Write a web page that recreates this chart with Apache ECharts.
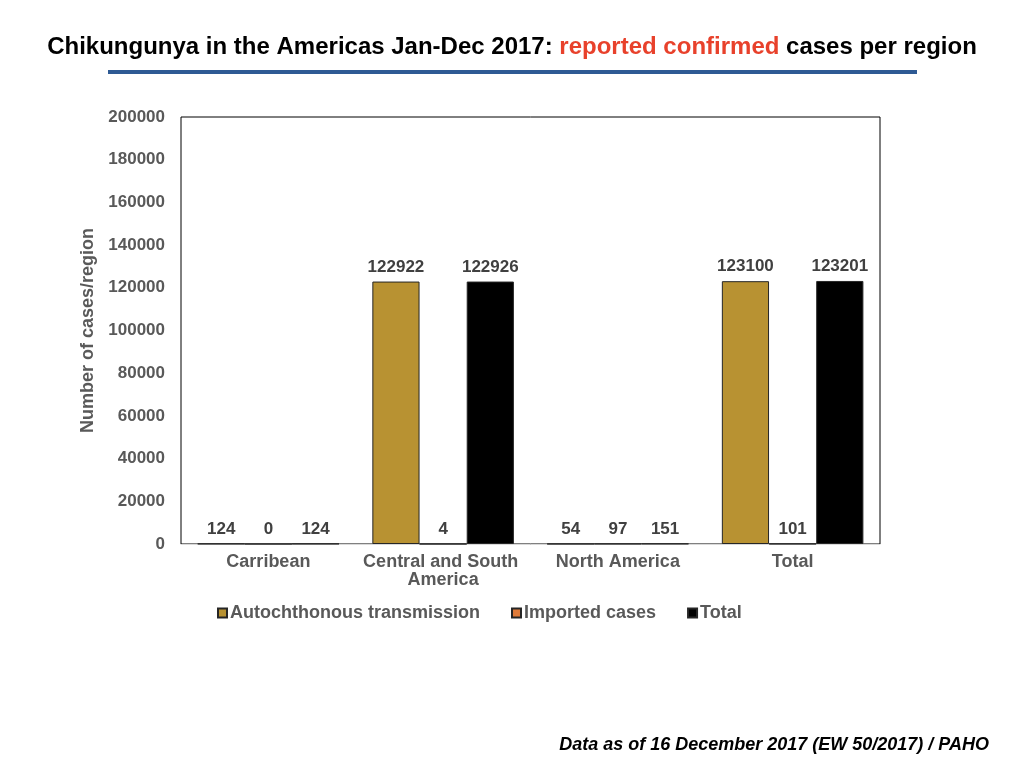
<!DOCTYPE html>
<html><head><meta charset="utf-8">
<script src="https://cdn.jsdelivr.net/npm/echarts@6/dist/echarts.min.js"></script>
<style>html,body{margin:0;padding:0;background:#fff}#c{width:1024px;height:768px}</style>
</head><body><div id="c"></div>
<script>
const categories = ['Carribean', 'Central and South America', 'North America', 'Total'];
const autochthonous = [124, 122922, 54, 123100];
const imported = [0, 4, 97, 101];
const totals = [124, 122926, 151, 123201];
const seriesNames = ['Autochthonous transmission', 'Imported cases', 'Total'];
const yTicks = {min: 0, max: 200000, interval: 20000};

const FONT = '"Liberation Sans", Arial, Helvetica, sans-serif';
const chart = echarts.init(document.getElementById('c'));
const labelCfg = {show: true, position: 'top', distance: 6, color: '#404040', fontWeight: 'bold', fontSize: 17, fontFamily: FONT};
function mk(name, data, color) {
  return {name, type: 'bar', data, barGap: '0%', barCategoryGap: '19%',
    itemStyle: {color, borderColor: '#262626', borderWidth: 1},
    label: labelCfg};
}
chart.setOption({
  animation: false,
  title: {
    text: 'Chikungunya in the Americas Jan-Dec 2017: {r|reported confirmed} cases per region',
    left: 'center', top: 30,
    textStyle: {fontSize: 24, fontWeight: 'bold', color: '#000', fontFamily: FONT,
      rich: {r: {fontSize: 24, fontWeight: 'bold', color: '#E8412B', fontFamily: FONT}}}
  },
  graphic: [
    {type: 'rect', shape: {x: 108, y: 70, width: 809, height: 4}, style: {fill: '#2E5A94'}},
    {type: 'text', right: 35, top: 736, style: {text: 'Data as of 16 December 2017 (EW 50/2017) / PAHO',
      font: 'italic bold 18px ' + FONT, fill: '#000'}}
  ],
  legend: {
    data: seriesNames, left: 212, top: 599, icon: 'rect', itemWidth: 9, itemHeight: 9, itemGap: 31,
    textStyle: {color: '#595959', fontWeight: 'bold', fontSize: 18, fontFamily: FONT, padding: [0, 0, 0, -2]}
  },
  grid: {left: 181, right: 144, top: 117, bottom: 224, show: true, borderColor: '#000', borderWidth: 1, backgroundColor: '#fff'},
  xAxis: {
    type: 'category', data: categories,
    axisLine: {lineStyle: {color: '#D9D9D9'}}, axisTick: {show: false},
    axisLabel: {color: '#595959', fontWeight: 'bold', fontSize: 18, fontFamily: FONT, margin: 9,
      width: 170, overflow: 'break', lineHeight: 18, interval: 0}
  },
  yAxis: {
    type: 'value', min: yTicks.min, max: yTicks.max, interval: yTicks.interval,
    name: 'Number of cases/region', nameLocation: 'middle', nameGap: 80, nameRotate: 90,
    nameTextStyle: {color: '#595959', fontWeight: 'bold', fontSize: 18, fontFamily: FONT},
    splitLine: {show: false}, axisLine: {show: false}, axisTick: {show: false},
    axisLabel: {color: '#595959', fontWeight: 'bold', fontSize: 17, fontFamily: FONT, margin: 16,
      formatter: function (v) { return String(v); }}
  },
  series: [
    mk(seriesNames[0], autochthonous, '#B89232'),
    mk(seriesNames[1], imported, '#E07B39'),
    mk(seriesNames[2], totals, '#000000')
  ]
});
</script></body></html>
